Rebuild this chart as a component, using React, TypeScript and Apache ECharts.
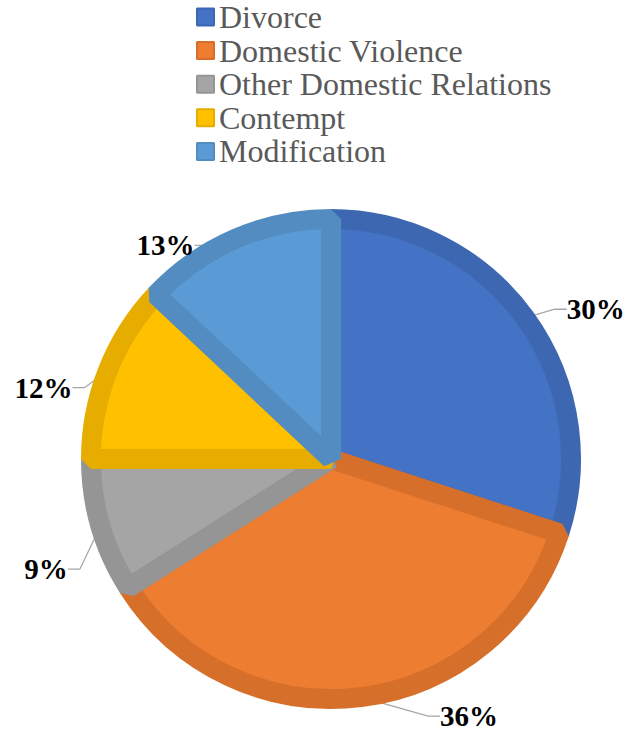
import React, { useEffect, useRef } from "react";
import * as echarts from "echarts";

const categories = ["Divorce", "Domestic Violence", "Other Domestic Relations", "Contempt", "Modification"];
const values = [30, 36, 9, 12, 13];
const fillColors = ["#4472C4", "#ED7D31", "#A5A5A5", "#FFC000", "#5B9BD5"];
const borderColors = ["#3E67B2", "#D66F2A", "#959595", "#E6AD00", "#528CC0"];
// label nudges (dx, dy) matching the reference's hand-placed labels
const labelNudgeX = [18, 61, -8, -11, -21];
const labelNudgeY = [-4, 11, 41, 20, 14];

const SERIF = "'Liberation Serif', 'Times New Roman', Times, serif";

export default function App() {
  const ref = useRef<HTMLDivElement>(null);
  useEffect(() => {
    const chart = echarts.init(ref.current!, null, { renderer: "svg" });
    chart.setOption({
      animation: false,
      backgroundColor: "#ffffff",
      legend: {
        orient: "vertical",
        left: 196,
        top: 1,
        padding: 0,
        itemWidth: 17,
        itemHeight: 17,
        itemGap: 1.6,
        icon: "rect",
        data: categories,
        textStyle: {
          fontFamily: SERIF,
          fontSize: 32,
          lineHeight: 32,
          color: "#595959",
        },
      },
      series: [
        {
          type: "pie",
          center: [331, 459],
          radius: [0, 240],
          startAngle: 90,
          clockwise: true,
          avoidLabelOverlap: false,
          data: categories.map((name, i) => ({
            name,
            value: values[i],
            itemStyle: {
              color: fillColors[i],
              borderColor: borderColors[i],
              borderWidth: 20,
              borderJoin: "bevel",
            },
          })),
          label: {
            show: true,
            position: "outside",
            formatter: "{d}%",
            fontFamily: SERIF,
            fontWeight: "bold",
            fontSize: 29,
            color: "#000000",
          },
          labelLine: {
            show: true,
            length: 8,
            length2: 12,
            lineStyle: { color: "#A6A6A6", width: 1.3 },
          },
          labelLayout: (p: any) => {
            const r = p.labelRect;
            return {
              x: r.x + labelNudgeX[p.dataIndex],
              y: r.y + labelNudgeY[p.dataIndex],
              align: "left",
              verticalAlign: "top",
            };
          },
        },
      ],
    });
    return () => chart.dispose();
  }, []);
  return (
    <div
      ref={ref}
      style={{ position: "fixed", left: 0, top: 0, width: 642, height: 734 }}
    />
  );
}
